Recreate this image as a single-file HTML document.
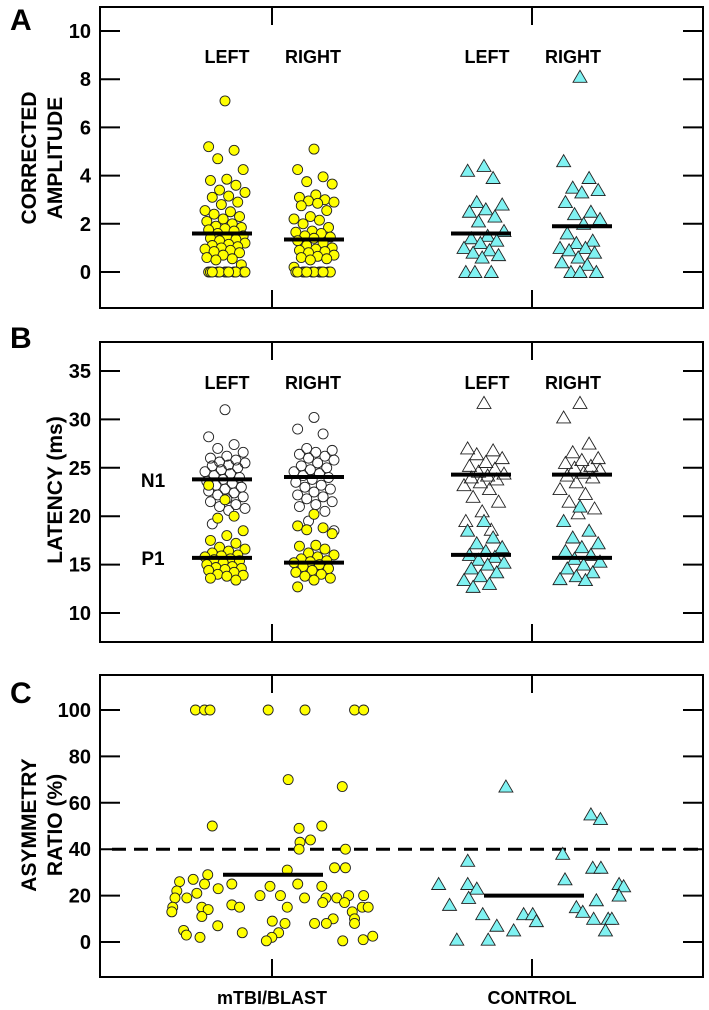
<!DOCTYPE html>
<html><head><meta charset="utf-8">
<style>
html,body{margin:0;padding:0;background:#fff;}
svg{display:block;font-family:"Liberation Sans",Arial,sans-serif;font-weight:bold;}
</style></head>
<body>
<svg id="chart" width="709" height="1010" viewBox="0 0 709 1010" xmlns="http://www.w3.org/2000/svg"></svg>
<script>
// ---------- Panel A data (corrected amplitude) ----------
const ampMtbiLeft = [7.1,5.2,5.05,4.7,4.25,3.85,3.8,3.6,3.4,3.3,3.15,3.1,2.9,2.8,2.55,2.5,2.4,2.3,2.2,2.1,2.0,1.9,1.85,1.8,1.75,1.7,1.6,1.5,1.45,1.4,1.35,1.3,1.2,1.15,1.1,1.05,1.0,0.95,0.9,0.85,0.8,0.7,0.6,0.55,0.5,0.3,0,0,0,0,0,0,0,0,0,0,0,0];
const ampMtbiRight = [5.1,4.25,3.95,3.75,3.65,3.2,3.1,3.0,2.95,2.9,2.85,2.75,2.55,2.3,2.2,2.15,2.0,1.85,1.7,1.65,1.6,1.5,1.45,1.4,1.3,1.2,1.1,1.0,0.95,0.9,0.85,0.8,0.7,0.65,0.6,0.55,0.5,0.2,0,0,0,0,0,0,0,0,0,0,0,0];
const ampCtrlLeft = [4.4,4.2,3.9,2.9,2.8,2.6,2.5,2.3,2.1,1.7,1.5,1.4,1.3,1.2,1.0,0.9,0.8,0.7,0.6,0,0,0];
const ampCtrlRight = [8.1,4.6,3.9,3.5,3.4,3.3,2.9,2.5,2.4,2.2,2.0,1.6,1.3,1.2,1.0,1.0,0.9,0.8,0.6,0.4,0.3,0,0,0];
const ampMeans = [1.6,1.35,1.6,1.9];
const ampTicks = [0,2,4,6,8,10];

// ---------- Panel B data (latency ms) ----------
const n1MtbiLeft = [31,28.2,27.4,27,26.6,26.2,26,25.8,25.6,25.5,25.3,25.2,25,24.8,24.6,24.4,24.2,24,23.8,23.6,23.4,23.2,23,22.8,22.6,22.4,22.2,22,21.8,21.5,21.2,21,20.8,20.6,19.2];
const p1MtbiLeft = [21.7,23.2,20,19.8,18.5,18,17.5,17.2,16.8,16.6,16.4,16.2,16,15.9,15.8,15.6,15.5,15.4,15.2,15,14.8,14.7,14.6,14.5,14.4,14.2,14,13.9,13.8,13.6,13.4];
const n1MtbiRight = [30.2,29,28.5,27,26.8,26.6,26.4,26.2,26,25.8,25.5,25.2,25,24.8,24.6,24.4,24.2,24,23.8,23.5,23.2,23,22.8,22.5,22.2,22,21.8,21.5,21.2,21,20.5,19.5,18.5];
const p1MtbiRight = [20.2,19,18.8,18.6,18.2,17,16.9,16.6,16.2,16,15.8,15.6,15.4,15.3,15.2,15,14.8,14.6,14.4,14.2,14,13.8,13.6,13.4,12.7];
const n1CtrlLeft = [31.7,27,26.8,26.4,26,25.6,25.2,24.9,24.6,24.4,24.2,24,23.8,23.5,23.2,22.8,22,21.5,20.5,19.5,18.6];
const p1CtrlLeft = [19.5,18.5,17.8,17.2,16.8,16.4,16,15.8,15.5,15.2,15,14.6,14.2,13.8,13.4,13,12.7];
const n1CtrlRight = [31.7,30.2,27.5,26.6,26,25.8,25.5,25.2,25,24.8,24.5,24.2,24,23.5,22.8,22.3,21.5,20.8,20.3];
const p1CtrlRight = [21,19.5,18.5,17.8,17.2,16.8,16.4,16,15.6,15.3,15,14.6,14.2,13.8,13.5,13.4];
const n1Means = [23.8,24.05,24.3,24.3];
const p1Means = [15.7,15.2,16.0,15.7];
const latTicks = [10,15,20,25,30,35];

// ---------- Panel C data (asymmetry %) ----------
const asymMtbi = [100,100,100,100,100,100,100,70,67,50,50,49,44,43,40,40,31,32,32,29,27,26,25,25,25,22,23,24,24,21,20,20,20,20,19,19,19,19,19,17,17,15,15,14,16,15,15,15,15,13,13,11,10,9,10,7,8,8,8,8,5,4,4,3,2.5,2,2,1,0.5,0.5];
const jitMtbi = [430,450,462,590,671,780,800,634,753,467,708,658,683,660,658,760,632,736,760,457,425,395,450,510,655,389,480,594,708,433,572,617,767,800,385,411,670,717,741,758,710,380,444,458,510,527,632,797,810,775,378,444,733,599,780,479,627,692,718,780,404,533,613,410,820,440,598,799,754,586];
const asymCtrl = [25,35,25,23,16,19,12,1,1,67,7,5,12,12,9,38,27,15,13,55,53,32,32,18,10,10,10,5,25,24,20];
const jitCtrl = [965,1029,1029,1049,989,1031,1062,1005,1074,1113,1093,1130,1152,1172,1180,1238,1243,1268,1282,1300,1321,1304,1322,1312,1306,1338,1346,1332,1362,1372,1362];
const asymMeans = [29,20];
const asymTicks = [0,20,40,60,80,100];
const asymThreshold = 40;

const NS = "http://www.w3.org/2000/svg";
const svg = document.getElementById('chart');
function mk(tag, attrs, parent){
  const e = document.createElementNS(NS, tag);
  for (const k in attrs) e.setAttribute(k, attrs[k]);
  (parent||svg).appendChild(e);
  return e;
}
const X0 = 100, X1 = 703;
const CAT = [272, 532];

function frame(top, bottom, name){
  const g = mk('g', {});
  
  
  mk('rect', {x:X0, y:top, width:X1-X0, height:bottom-top, fill:'none', stroke:'#000', 'stroke-width':2}, g);
  for (const cx of CAT){
    mk('line', {x1:cx, x2:cx, y1:top, y2:top+18, stroke:'#000','stroke-width':2}, g);
    mk('line', {x1:cx, x2:cx, y1:bottom, y2:bottom-18, stroke:'#000','stroke-width':2}, g);
  }
  return g;
}
function yAxis(ticks, yf, name){
  const g = mk('g', {});
  
  
  for (const t of ticks){
    const y = yf(t);
    mk('line', {x1:X0, x2:X0+20, y1:y, y2:y, stroke:'#000','stroke-width':2}, g);
    mk('line', {x1:X1, x2:X1-20, y1:y, y2:y, stroke:'#000','stroke-width':2}, g);
    const tx = mk('text', {x:91, y:y+7, 'text-anchor':'end', 'font-size':20}, g);
    tx.textContent = t;
    
    
  }
}
function text(str, x, y, size, name, extra){
  const t = mk('text', Object.assign({x:x, y:y, 'font-size':size, 'text-anchor':'middle'}, extra||{}));
  t.textContent = str;
  
  
  return t;
}
function circle(cx, cy, fill, g){
  const c = mk('circle', {cx:cx, cy:cy, r:5, fill:fill, stroke:'#222', 'stroke-width':0.9}, g);
  
  
}
function tri(cx, cy, fill, g){
  const p = mk('polygon', {points:`${cx-7},${cy+5.5} ${cx+7},${cy+5.5} ${cx},${cy-6.5}`, fill:fill, stroke:'#222', 'stroke-width':0.9}, g);
  
  
}
function jitter(i, half){ return (((i*37+11) % 23) - 11) / 11 * half; }
function meanLine(cx, half, y, name){
  const l = mk('line', {x1:cx-half, x2:cx+half, y1:y, y2:y, stroke:'#000', 'stroke-width':4});
  
  
}
function group(vals, cx, yf, shape, fill, name, half){
  const g = mk('g', {});
  
  
  vals.forEach((v,i)=>{
    const x = cx + jitter(i, half);
    if (shape==='c') circle(x, yf(v), fill, g); else tri(x, yf(v), fill, g);
  });
}
const YEL = '#ffff00', CYA = '#80f2f2';
const GX = [225, 314, 484, 580];

// ---------- Panel A ----------
const yA = v => 272 - v * 24.1;
frame(7, 308, 'panel-a');
yAxis(ampTicks, yA, 'panel-a');
text('A', 10, 30, 30, 'panel-a-label', {'text-anchor':'start'});
text('CORRECTED', 28, 158, 21, 'panel-a-y-title-line1', {transform:'rotate(-90 28 158)', dy:8});
text('AMPLITUDE', 54, 158, 21, 'panel-a-y-title-line2', {transform:'rotate(-90 54 158)', dy:8});
['LEFT','RIGHT','LEFT','RIGHT'].forEach((s,i)=> text(s, [227,313,487,573][i], 63, 18, 'panel-a-side-label'));
group(ampMtbiLeft, GX[0], yA, 'c', YEL, 'amp-mtbi-left', 20);
group(ampMtbiRight, GX[1], yA, 'c', YEL, 'amp-mtbi-right', 20);
group(ampCtrlLeft, GX[2], yA, 't', CYA, 'amp-control-left', 20);
group(ampCtrlRight, GX[3], yA, 't', CYA, 'amp-control-right', 20);
ampMeans.forEach((m,i)=> meanLine(GX[i]+([-3,0,-3,2][i]), 30, yA(m), 'amp-mean-line'));

// ---------- Panel B ----------
const yB = v => 613 - (v - 10) * 9.68;
frame(342, 642, 'panel-b');
yAxis(latTicks, yB, 'panel-b');
text('B', 10, 348, 30, 'panel-b-label', {'text-anchor':'start'});
text('LATENCY (ms)', 54, 490, 21, 'panel-b-y-title', {transform:'rotate(-90 54 490)', dy:8});
['LEFT','RIGHT','LEFT','RIGHT'].forEach((s,i)=> text(s, [227,313,487,573][i], 389, 18, 'panel-b-side-label'));
text('N1', 153, 487, 19, 'n1-label');
text('P1', 153, 565, 19, 'p1-label');
group(n1MtbiLeft, GX[0], yB, 'c', 'none', 'n1-mtbi-left', 20);
group(n1MtbiRight, GX[1], yB, 'c', 'none', 'n1-mtbi-right', 20);
group(n1CtrlLeft, GX[2], yB, 't', 'none', 'n1-control-left', 20);
group(n1CtrlRight, GX[3], yB, 't', 'none', 'n1-control-right', 20);
group(p1MtbiLeft, GX[0], yB, 'c', YEL, 'p1-mtbi-left', 20);
group(p1MtbiRight, GX[1], yB, 'c', YEL, 'p1-mtbi-right', 20);
group(p1CtrlLeft, GX[2], yB, 't', CYA, 'p1-control-left', 20);
group(p1CtrlRight, GX[3], yB, 't', CYA, 'p1-control-right', 20);
n1Means.forEach((m,i)=> meanLine(GX[i]+([-3,0,-3,2][i]), 30, yB(m), 'n1-mean-line'));
p1Means.forEach((m,i)=> meanLine(GX[i]+([-3,0,-3,2][i]), 30, yB(m), 'p1-mean-line'));

// ---------- Panel C ----------
const yC = v => 942 - v * 2.32;
frame(675, 977, 'panel-c');
yAxis(asymTicks, yC, 'panel-c');
text('C', 10, 703, 30, 'panel-c-label', {'text-anchor':'start'});
text('ASYMMETRY', 28, 825, 21, 'panel-c-y-title-line1', {transform:'rotate(-90 28 825)', dy:8});
text('RATIO (%)', 54, 825, 21, 'panel-c-y-title-line2', {transform:'rotate(-90 54 825)', dy:8});
const dl = mk('line', {x1:112, x2:X1, y1:yC(asymThreshold), y2:yC(asymThreshold), stroke:'#000','stroke-width':3,'stroke-dasharray':'14,8'});


(function(){
  const g = mk('g', {});
  
  
  asymMtbi.forEach((v,i)=> circle(jitMtbi[i]/2.2, yC(v), YEL, g));
  const g2 = mk('g', {});
  
  
  asymCtrl.forEach((v,i)=> tri(jitCtrl[i]/2.2, yC(v), CYA, g2));
})();
meanLine(273, 50, yC(asymMeans[0]), 'asym-mean-mtbi');
meanLine(534, 50, yC(asymMeans[1]), 'asym-mean-control');
text('mTBI/BLAST', 272, 1004, 18, 'x-category-mtbi');
text('CONTROL', 532, 1004, 18, 'x-category-control');
</script>
</body></html>
